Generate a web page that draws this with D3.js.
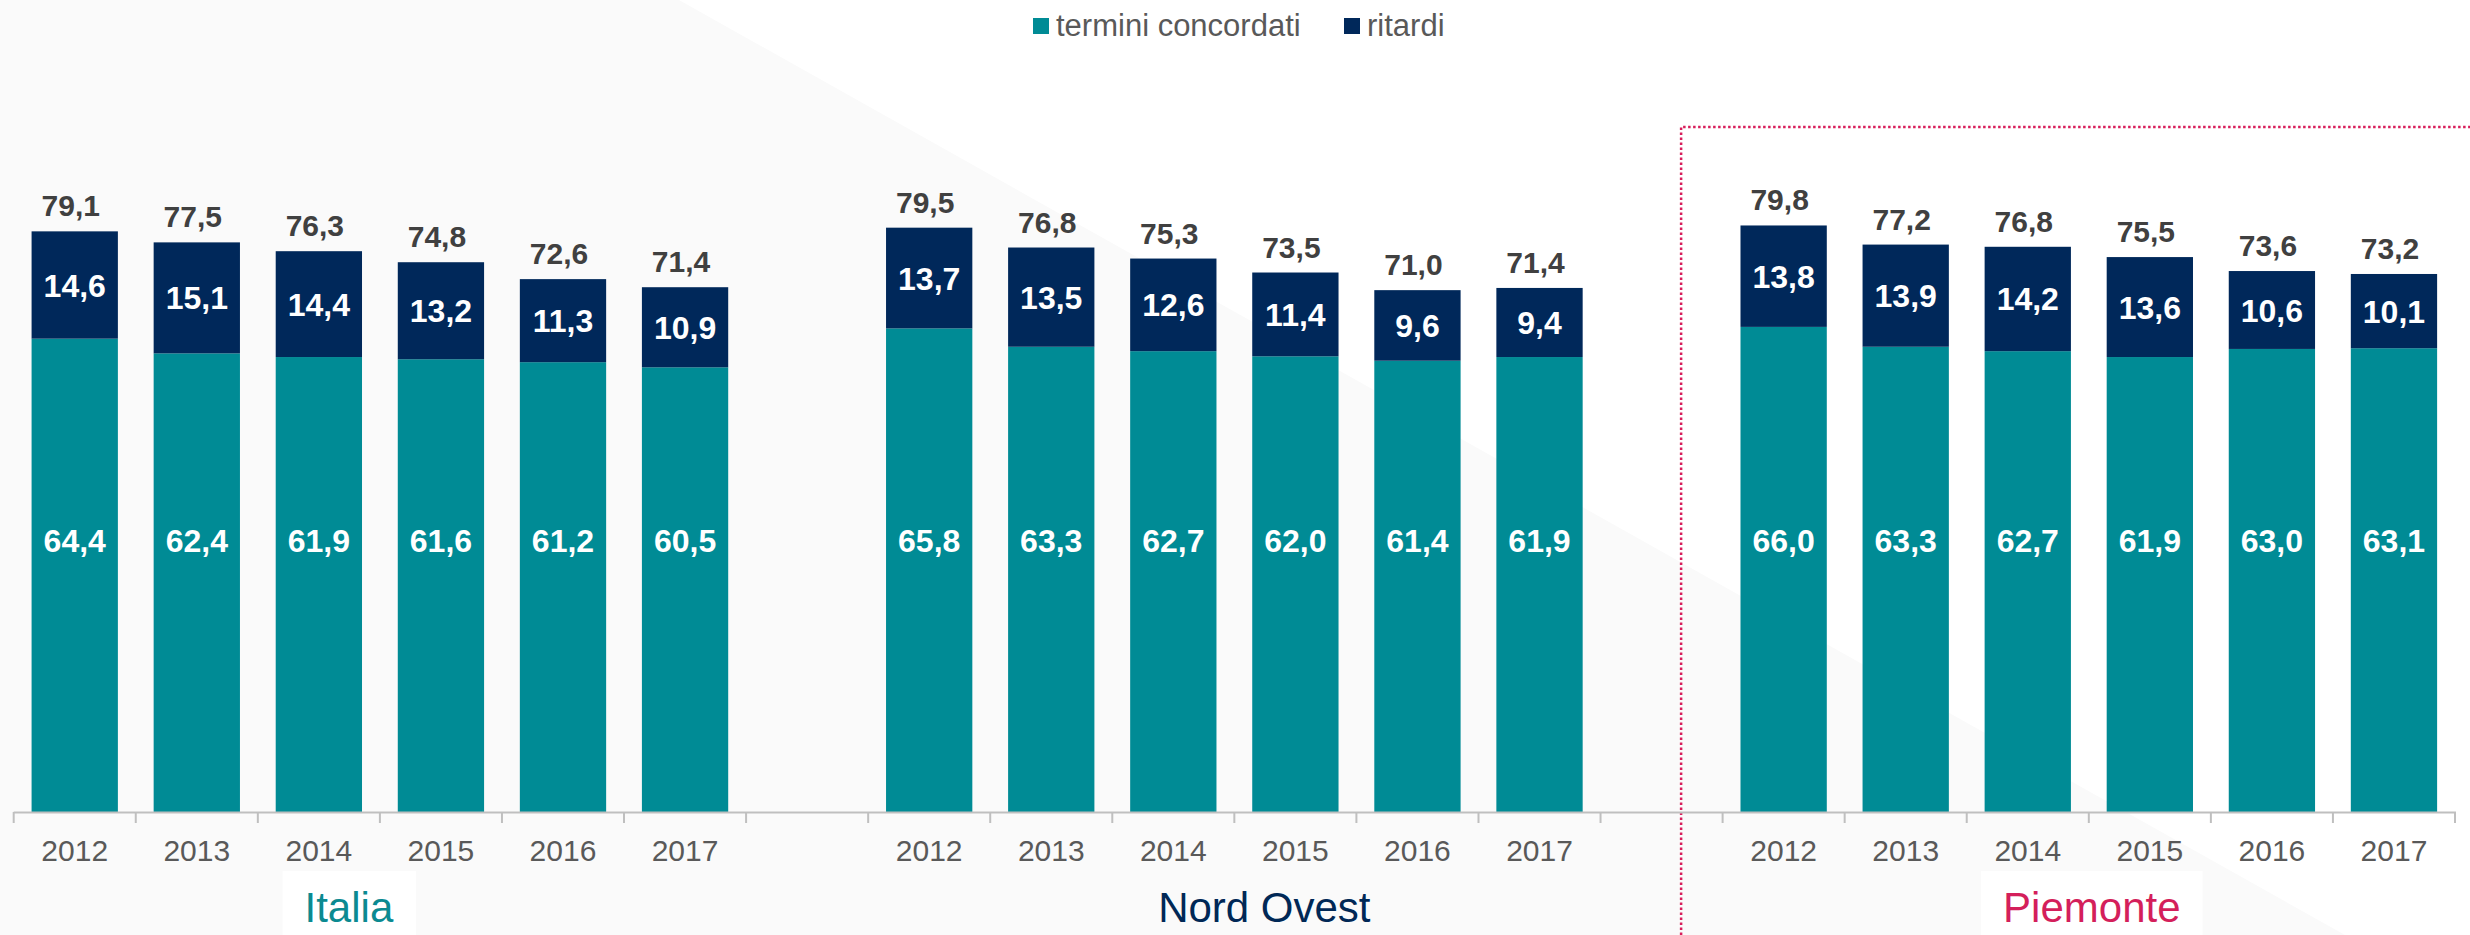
<!DOCTYPE html>
<html>
<head>
<meta charset="utf-8">
<script src="https://cdn.jsdelivr.net/npm/d3@7"></script>
<style>
  html, body { margin: 0; padding: 0; background: #fafafa; }
  svg { display: block; }
</style>
</head>
<body>
<svg id="chart" width="2470" height="935"></svg>
<script>
// ---- DATA ----
const groups = ["Italia", "Nord Ovest", "Piemonte"];
const years = ["2012", "2013", "2014", "2015", "2016", "2017"];
const termini = [
  [64.4, 62.4, 61.9, 61.6, 61.2, 60.5],
  [65.8, 63.3, 62.7, 62.0, 61.4, 61.9],
  [66.0, 63.3, 62.7, 61.9, 63.0, 63.1]
];
const ritardi = [
  [14.6, 15.1, 14.4, 13.2, 11.3, 10.9],
  [13.7, 13.5, 12.6, 11.4, 9.6, 9.4],
  [13.8, 13.9, 14.2, 13.6, 10.6, 10.1]
];
const totals = [
  [79.1, 77.5, 76.3, 74.8, 72.6, 71.4],
  [79.5, 76.8, 75.3, 73.5, 71.0, 71.4],
  [79.8, 77.2, 76.8, 75.5, 73.6, 73.2]
];
const seriesNames = ["termini concordati", "ritardi"];
const groupColors = ["#0b8a91", "#002856", "#d41f5b"];

// ---- SETUP ----
const W = 2470, H = 935;
const TEAL = "#008b95", NAVY = "#00285a";
const svg = d3.select("#chart");
const fmt = v => d3.format(".1f")(v).replace(".", ",");

// background
svg.append("rect").attr("width", W).attr("height", H).attr("fill", "#fafafa");
svg.append("polygon")
  .attr("points", "679,0 2470,0 2470,935 2345,935")
  .attr("fill", "#ffffff");

// band domain: 6 + gap + 6 + gap + 6
const slots = [];
groups.forEach((g, gi) => {
  years.forEach(y => slots.push(g + "|" + y));
  if (gi < groups.length - 1) slots.push("gap" + gi);
});

const x = d3.scaleBand().domain(slots).range([13.7, 2455]).paddingInner(0.293).paddingOuter(0.1465);
const xOuter = d3.scaleBand().domain(slots).range([13.7, 2455]).padding(0);
const y = d3.scaleLinear().domain([0, 100]).range([812, 77]);

// records
const recs = [];
groups.forEach((g, gi) => years.forEach((yr, yi) => {
  recs.push({ key: g + "|" + yr, group: g, gi, year: yr,
    t: termini[gi][yi], r: ritardi[gi][yi], tot: totals[gi][yi] });
}));

// dotted Piemonte frame
const frameX = xOuter("gap1") + xOuter.step() * 0.66;
svg.append("path")
  .attr("d", `M${frameX},${H} L${frameX},127 L${W},127`)
  .attr("fill", "none")
  .attr("stroke", "#d81e5b")
  .attr("stroke-width", 2.5)
  .attr("stroke-dasharray", "2.5,2.5");

// bars
const g = svg.append("g");
g.selectAll("rect.t").data(recs).join("rect")
  .attr("class", "t")
  .attr("x", d => x(d.key)).attr("width", x.bandwidth())
  .attr("y", d => y(d.t)).attr("height", d => y(0) - y(d.t))
  .attr("fill", TEAL);
g.selectAll("rect.r").data(recs).join("rect")
  .attr("class", "r")
  .attr("x", d => x(d.key)).attr("width", x.bandwidth())
  .attr("y", d => y(d.t + d.r)).attr("height", d => y(d.t) - y(d.t + d.r))
  .attr("fill", NAVY);

// labels
const font = "'Liberation Sans', Arial, sans-serif";
g.selectAll("text.tl").data(recs).join("text")
  .attr("class", "tl")
  .attr("x", d => x(d.key) + x.bandwidth() / 2)
  .attr("y", 540)
  .attr("dy", "0.36em")
  .attr("text-anchor", "middle")
  .attr("font-family", font).attr("font-weight", "bold").attr("font-size", 32)
  .attr("fill", "#ffffff")
  .text(d => fmt(d.t));
g.selectAll("text.rl").data(recs).join("text")
  .attr("class", "rl")
  .attr("x", d => x(d.key) + x.bandwidth() / 2)
  .attr("y", d => (y(d.t) + y(d.t + d.r)) / 2)
  .attr("dy", "0.36em")
  .attr("text-anchor", "middle")
  .attr("font-family", font).attr("font-weight", "bold").attr("font-size", 32)
  .attr("fill", "#ffffff")
  .text(d => fmt(d.r));
g.selectAll("text.tot").data(recs).join("text")
  .attr("class", "tot")
  .attr("x", d => x(d.key) + x.bandwidth() / 2 - 4)
  .attr("y", d => y(d.t + d.r) - 15)
  .attr("text-anchor", "middle")
  .attr("font-family", font).attr("font-weight", "bold").attr("font-size", 30)
  .attr("fill", "#404040")
  .text(d => fmt(d.tot));

// axis
const axisG = svg.append("g").attr("transform", "translate(0,812)");
axisG.call(d3.axisBottom(x).tickSize(0).tickPadding(0).tickFormat(() => ""));
axisG.select(".domain").attr("stroke", "#bfbfbf").attr("stroke-width", 2)
  .attr("d", `M13.7,0.5V0.5H2455V10`);
const bounds = d3.range(slots.length + 1).map(i => 13.7 + i * xOuter.step());
axisG.selectAll("line.b").data(bounds).join("line")
  .attr("class", "b")
  .attr("x1", d => d).attr("x2", d => d)
  .attr("y1", 0).attr("y2", 11)
  .attr("stroke", "#bfbfbf").attr("stroke-width", 2);
axisG.selectAll("text.yr").data(recs).join("text")
  .attr("class", "yr")
  .attr("x", d => x(d.key) + x.bandwidth() / 2)
  .attr("y", 49)
  .attr("text-anchor", "middle")
  .attr("font-family", font).attr("font-size", 30)
  .attr("fill", "#595959")
  .text(d => d.year);

// group labels
const groupCenters = groups.map(gn => {
  const a = x(gn + "|" + years[0]), b = x(gn + "|" + years[years.length - 1]) + x.bandwidth();
  return (a + b) / 2;
});
const groupDx = [-31, 30, 3];
const groupBox = [true, false, true];
groups.forEach((gn, gi) => {
  const cx = groupCenters[gi] + groupDx[gi];
  const t = svg.append("text")
    .attr("x", cx).attr("y", 922)
    .attr("text-anchor", "middle")
    .attr("font-family", font).attr("font-size", 42)
    .attr("fill", groupColors[gi])
    .text(gn);
  if (groupBox[gi]) {
    const bb = t.node().getBBox();
    svg.insert("rect", () => t.node())
      .attr("x", bb.x - 22).attr("y", 871)
      .attr("width", bb.width + 44).attr("height", H - 871)
      .attr("fill", "#ffffff");
  }
});

// legend
const legend = svg.append("g");
const legX = [1033, 1344];
const legColors = [TEAL, NAVY];
seriesNames.forEach((s, i) => {
  legend.append("rect").attr("x", legX[i]).attr("y", 18).attr("width", 16).attr("height", 16)
    .attr("fill", legColors[i]);
  legend.append("text").attr("x", legX[i] + 23).attr("y", 36)
    .attr("font-family", font).attr("font-size", 31).attr("fill", "#595959")
    .text(s);
});
</script>
</body>
</html>
